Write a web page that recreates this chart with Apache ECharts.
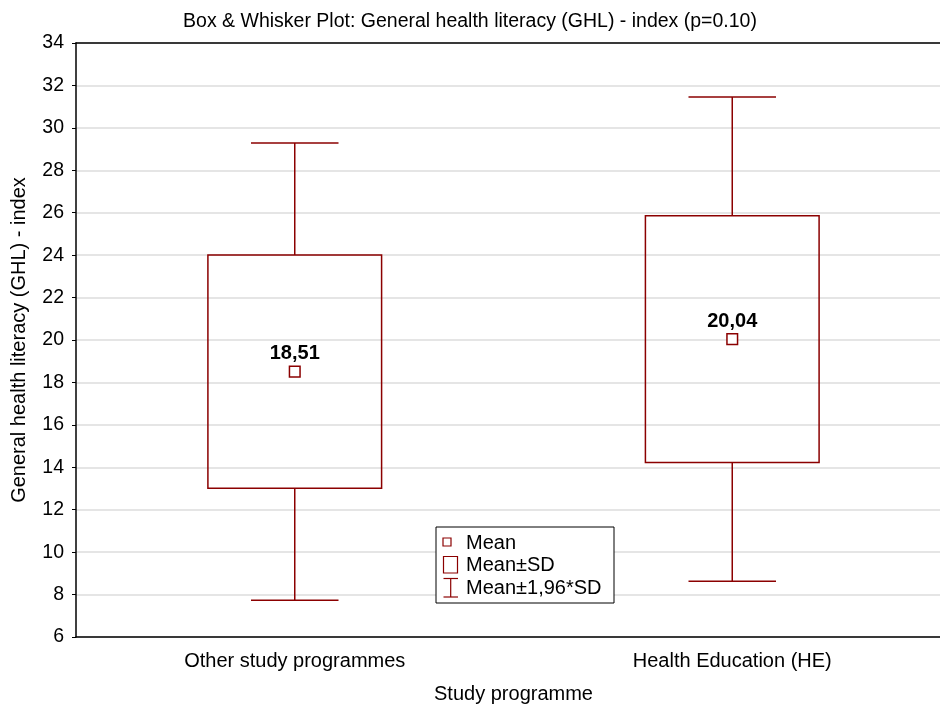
<!DOCTYPE html>
<html><head><meta charset="utf-8">
<script src="https://cdn.jsdelivr.net/npm/echarts@6/dist/echarts.min.js"></script>
<style>html,body{margin:0;padding:0;background:#fff}#c{width:940px;height:709px}</style>
</head><body><div id="c"></div>
<script>
var categories = ['Other study programmes', 'Health Education (HE)'];
var means = [18.51, 20.04];
var sdLow = [13.01, 14.22];
var sdHigh = [24.01, 25.86];
var ciLow = [7.73, 8.63];
var ciHigh = [29.29, 31.45];
var meanLabels = ['18,51', '20,04'];
var yTicks = {min: 6, max: 34, interval: 2};

var RED = '#8B0000';
var FONT = 'Liberation Sans, Arial, sans-serif';

var data = categories.map(function (c, i) {
  return [i, means[i], sdLow[i], sdHigh[i], ciLow[i], ciHigh[i]];
});

function renderItem(params, api) {
  var x = api.value(0);
  var band = api.size([1, 0])[0];
  var pMean = api.coord([x, api.value(1)]);
  var pSdL = api.coord([x, api.value(2)]);
  var pSdH = api.coord([x, api.value(3)]);
  var pCiL = api.coord([x, api.value(4)]);
  var pCiH = api.coord([x, api.value(5)]);
  var cx = pMean[0];
  var bw = band * 0.397;
  var cw = band * 0.2;
  var ls = {stroke: RED, lineWidth: 1.5, fill: null};
  return {
    type: 'group',
    children: [
      {type: 'line', shape: {x1: cx, y1: pCiH[1], x2: cx, y2: pSdH[1]}, style: ls},
      {type: 'line', shape: {x1: cx, y1: pSdL[1], x2: cx, y2: pCiL[1]}, style: ls},
      {type: 'line', shape: {x1: cx - cw / 2, y1: pCiH[1], x2: cx + cw / 2, y2: pCiH[1]}, style: ls},
      {type: 'line', shape: {x1: cx - cw / 2, y1: pCiL[1], x2: cx + cw / 2, y2: pCiL[1]}, style: ls},
      {type: 'rect', shape: {x: cx - bw / 2, y: pSdH[1], width: bw, height: pSdL[1] - pSdH[1]}, style: ls},
      {type: 'rect', shape: {x: cx - 5.3, y: pMean[1] - 5.3, width: 10.6, height: 10.6}, style: {stroke: RED, lineWidth: 1.5, fill: '#fff'}},
      {type: 'text', x: cx, y: pMean[1] - 18, style: {text: meanLabels[params.dataIndex], font: 'bold 20px ' + FONT, fill: '#000', align: 'center', verticalAlign: 'middle'}}
    ]
  };
}

var chart = echarts.init(document.getElementById('c'));
chart.setOption({
  animation: false,
  backgroundColor: '#fff',
  title: {
    text: 'Box & Whisker Plot: General health literacy (GHL) - index (p=0.10)',
    left: 'center', top: 7,
    textStyle: {fontFamily: FONT, fontSize: 19.5, fontWeight: 'normal', color: '#000'}
  },
  grid: {left: 76, top: 43, width: 875, height: 594, containLabel: false, outerBoundsMode: 'none'},
  xAxis: [{
    type: 'category', data: categories, position: 'bottom',
    name: 'Study programme', nameLocation: 'middle', nameGap: 47,
    nameTextStyle: {fontFamily: FONT, fontSize: 20, color: '#000'},
    axisLine: {lineStyle: {color: '#000', width: 1.5}},
    axisTick: {inside: true, alignWithLabel: true, length: 5, lineStyle: {color: '#000'}},
    axisLabel: {fontFamily: FONT, fontSize: 20, color: '#000', margin: 14},
    splitLine: {show: false}
  }, {
    type: 'category', data: categories, position: 'top',
    axisLine: {lineStyle: {color: '#000', width: 1.5}},
    axisTick: {inside: true, alignWithLabel: true, length: 5, lineStyle: {color: '#000'}},
    axisLabel: {show: false}, splitLine: {show: false}
  }],
  yAxis: {
    type: 'value', min: yTicks.min, max: yTicks.max, interval: yTicks.interval,
    name: 'General health literacy (GHL) - index', nameLocation: 'middle', nameGap: 47,
    nameTextStyle: {fontFamily: FONT, fontSize: 20, color: '#000'},
    axisLine: {show: true, lineStyle: {color: '#000', width: 1.5}},
    axisTick: {show: true, length: 4, lineStyle: {color: '#000'}},
    axisLabel: {fontFamily: FONT, fontSize: 19.5, color: '#000', margin: 12},
    splitLine: {show: true, lineStyle: {color: '#dcdcdc', width: 1.5}}
  },
  series: [{
    type: 'custom', xAxisIndex: 0, renderItem: renderItem, data: data, clip: false
  }],
  graphic: [
    {type: 'rect', shape: {x: 436, y: 527, width: 178, height: 76}, style: {fill: '#fff', stroke: '#000', lineWidth: 1}, z: 100},
    {type: 'rect', shape: {x: 447 - 4, y: 542 - 4, width: 8, height: 8}, style: {fill: '#fff', stroke: RED, lineWidth: 1.2}, z: 101},
    {type: 'rect', shape: {x: 443.5, y: 556.5, width: 14, height: 16.5}, style: {fill: '#fff', stroke: RED, lineWidth: 1.2}, z: 101},
    {type: 'line', shape: {x1: 443.5, y1: 578.5, x2: 458, y2: 578.5}, style: {stroke: RED, lineWidth: 1.2}, z: 101},
    {type: 'line', shape: {x1: 443.5, y1: 597, x2: 458, y2: 597}, style: {stroke: RED, lineWidth: 1.2}, z: 101},
    {type: 'line', shape: {x1: 450.7, y1: 578.5, x2: 450.7, y2: 597}, style: {stroke: RED, lineWidth: 1.2}, z: 101},
    {type: 'text', x: 466, y: 543, style: {text: 'Mean', font: '20px ' + FONT, fill: '#000', verticalAlign: 'middle'}, z: 101},
    {type: 'text', x: 466, y: 565, style: {text: 'Mean±SD', font: '20px ' + FONT, fill: '#000', verticalAlign: 'middle'}, z: 101},
    {type: 'text', x: 466, y: 588, style: {text: 'Mean±1,96*SD', font: '20px ' + FONT, fill: '#000', verticalAlign: 'middle'}, z: 101}
  ]
});
</script></body></html>
